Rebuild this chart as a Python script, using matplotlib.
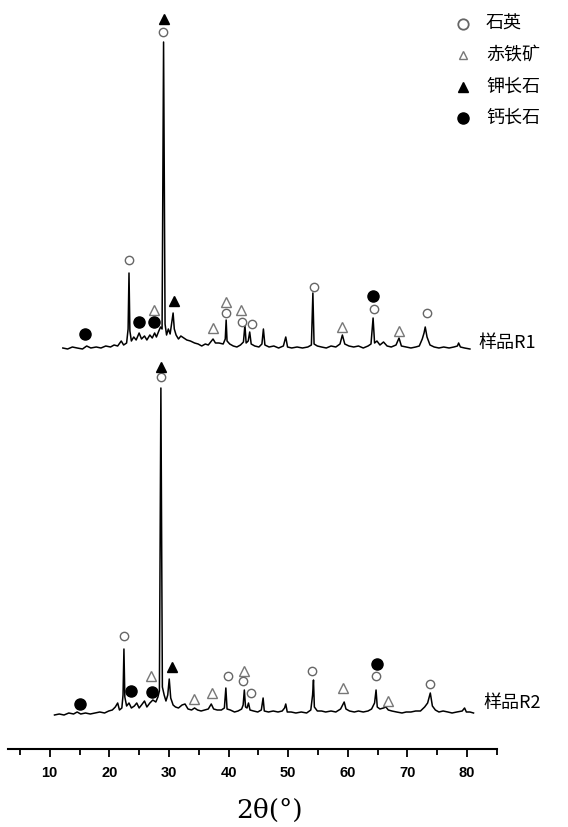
import numpy as np
import matplotlib
matplotlib.use("Agg")
import matplotlib.pyplot as plt

plt.rcParams['font.family'] = ['Noto Sans CJK SC', 'DejaVu Sans']

# XRD traces, 2theta vs intensity above own baseline
r1_x = [12.2, 13.0, 13.8, 14.6, 15.5, 16.2, 16.9, 17.8, 18.6, 19.4, 20.2, 20.8, 21.4, 22.0, 22.4,
        22.9, 23.15, 23.3, 23.45, 23.7, 24.1, 24.5, 25.0, 25.4, 25.9, 26.3, 26.8, 27.2, 27.6, 27.9,
        28.3, 28.6, 28.85, 29.1, 29.35, 29.6, 29.9, 30.2, 30.5, 30.7, 30.9, 31.2, 31.6, 32.0, 32.5,
        33.0, 33.6, 34.3, 34.9, 35.5, 36.1, 36.6, 37.0, 37.4, 37.8, 38.4, 39.1, 39.45, 39.6, 39.75,
        40.2, 40.8, 41.4, 42.0, 42.5, 42.75, 42.95, 43.3, 43.55, 43.8, 44.4, 45.1, 45.6, 45.85, 46.1,
        46.8, 47.6, 48.4, 49.2, 49.6, 49.9, 50.6, 51.5, 52.4, 53.3, 53.9, 54.15, 54.35, 54.9, 55.6,
        56.4, 57.2, 58.0, 58.7, 59.1, 59.5, 60.2, 61.0, 61.8, 62.6, 63.4, 63.9, 64.25, 64.5, 64.9,
        65.4, 66.0, 66.6, 67.3, 68.1, 68.6, 69.0, 69.8, 70.6, 71.4, 72.0, 72.5, 72.8, 73.0, 73.3,
        73.8, 74.5, 75.3, 76.1, 77.0, 77.8, 78.4, 78.6, 78.9, 79.6, 80.5]
r1_i = [1, 0, 2, 1, 0, 3, 1, 2, 1, 3, 2, 4, 3, 8, 4,
        6, 20, 76, 18, 8, 12, 9, 16, 10, 13, 9, 14, 11, 16, 12,
        18, 22, 20, 307, 25, 14, 20, 15, 28, 36, 20, 14, 10, 13, 11,
        9, 8, 6, 5, 3, 5, 4, 7, 10, 6, 6, 5, 10, 29, 8,
        5, 3, 2, 4, 7, 24, 6, 8, 17, 5, 3, 2, 5, 20, 4,
        2, 3, 1, 3, 12, 2, 1, 2, 1, 2, 4, 56, 5, 3, 2,
        1, 3, 2, 5, 14, 5, 3, 2, 3, 1, 3, 5, 31, 6, 8,
        4, 7, 3, 2, 4, 11, 3, 2, 1, 2, 3, 10, 16, 22, 12,
        4, 2, 1, 2, 1, 2, 3, 6, 2, 1, 0]

r2_x = [10.8, 11.6, 12.4, 13.2, 14.0, 14.6, 15.2, 16.0, 16.8, 17.6, 18.4, 19.2, 19.9, 20.5, 21.0,
        21.4, 21.7, 22.1, 22.3, 22.45, 22.6, 22.9, 23.3, 23.7, 24.2, 24.6, 25.0, 25.4, 25.9, 26.3,
        26.8, 27.3, 27.8, 28.15, 28.4, 28.65, 28.9, 29.2, 29.5, 29.8, 30.05, 30.3, 30.7, 31.1, 31.6,
        32.2, 32.7, 33.2, 33.8, 34.3, 34.8, 35.4, 36.0, 36.6, 37.1, 37.5, 38.1, 38.8, 39.3, 39.55,
        39.75, 40.3, 41.0, 41.6, 42.2, 42.45, 42.65, 42.85, 43.1, 43.35, 43.6, 44.2, 44.9, 45.5, 45.8,
        46.0, 46.7, 47.5, 48.3, 49.0, 49.4, 49.6, 49.85, 50.5, 51.3, 52.2, 53.1, 53.8, 54.1, 54.25,
        54.4, 54.9, 55.6, 56.3, 57.2, 58.0, 58.8, 59.4, 59.7, 60.3, 61.1, 61.8, 62.6, 63.4, 64.0,
        64.5, 64.75, 64.95, 65.4, 66.0, 66.4, 66.8, 67.4, 68.2, 69.1, 69.8, 70.6, 71.4, 72.2, 72.9,
        73.4, 73.85, 74.2, 74.7, 75.3, 76.0, 76.8, 77.5, 78.3, 79.2, 79.6, 79.9, 80.5, 81.1]
r2_i = [0, 1, 0, 2, 1, 3, 1, 2, 1, 2, 3, 2, 4, 5, 8,
        12, 5, 7, 20, 66, 18, 9, 12, 7, 9, 12, 7, 10, 14, 8,
        12, 15, 13, 18, 24, 327, 28, 20, 14, 20, 36, 17, 10, 8, 7,
        10, 11, 6, 5, 7, 5, 4, 5, 6, 11, 6, 5, 5, 7, 27,
        6, 5, 3, 4, 6, 10, 25, 8, 7, 12, 5, 4, 3, 5, 17,
        4, 3, 4, 3, 4, 7, 11, 3, 3, 2, 3, 2, 5, 20, 35,
        8, 4, 4, 3, 4, 3, 6, 13, 6, 4, 3, 4, 3, 4, 6,
        12, 25, 8, 6, 7, 8, 5, 4, 3, 2, 3, 3, 4, 4, 8,
        12, 22, 9, 5, 3, 4, 3, 2, 3, 4, 7, 3, 3, 2]

r1_offset = 400
r2_offset = 34

# phase markers (2theta, plot height)
quartz_x = [23.27, 28.98, 39.56, 42.25, 43.93, 54.35, 64.43, 73.33,
            22.43, 28.65, 39.90, 42.42, 43.76, 54.01, 64.76, 73.83]
quartz_y = [489, 717, 436, 427, 425, 462, 440, 436,
            113, 372, 73, 68, 56, 78, 73, 65]
hematite_x = [27.47, 37.38, 39.56, 42.08, 59.05, 68.63,
              26.97, 34.19, 37.21, 42.59, 59.22, 66.78]
hematite_y = [439, 421, 447, 439, 422, 418,
              73, 50, 56, 78, 61, 48]
kfeld_x = [29.15, 30.83, 28.65, 30.49]
kfeld_y = [730, 448, 382, 82]
cafeld_x = [15.88, 24.95, 27.47, 64.26, 15.04, 23.61, 27.13, 64.93]
cafeld_y = [415, 427, 427, 453, 45, 58, 57, 85]

legend_labels = ['石英', '赤铁矿', '钾长石', '钙长石']
sample_labels = ['样品R1', '样品R2']
xticks_major = [10, 20, 30, 40, 50, 60, 70, 80]

fig = plt.figure(figsize=(5.68, 8.27), dpi=100)
ax = fig.add_axes([8 / 568, 78 / 827, 489 / 568, 749 / 827])

ax.plot(r1_x, np.array(r1_i) + r1_offset, color='black', lw=1.1)
ax.plot(r2_x, np.array(r2_i) + r2_offset, color='black', lw=1.1)

circ = dict(marker='o', ls='none', ms=6, mfc='white', mec='#666666', mew=1.0)
tri_open = dict(marker='^', ls='none', ms=6.5, mfc='white', mec='#777777', mew=1.0)
tri_fill = dict(marker='^', ls='none', ms=7, mfc='black', mec='black')
dot = dict(marker='o', ls='none', ms=8, mfc='black', mec='black')

ax.plot(quartz_x, quartz_y, **circ)
ax.plot(hematite_x, hematite_y, **tri_open)
ax.plot(kfeld_x, kfeld_y, **tri_fill)
ax.plot(cafeld_x, cafeld_y, **dot)

ax.text(81.9, 406, sample_labels[0], fontsize=13, va='center', ha='left')
ax.text(82.7, 46, sample_labels[1], fontsize=13, va='center', ha='left')

# legend drawn by hand in figure pixels
leg_rows = [24, 55, 87, 118]
leg_styles = [dict(circ, ms=7.5, mew=1.3), dict(tri_open, ms=6), tri_fill, dot]
for style, lab, yy in zip(leg_styles, legend_labels, leg_rows):
    fig.add_artist(plt.Line2D([463 / 568], [1 - yy / 827], transform=fig.transFigure, **style))
    fig.text(486 / 568, 1 - yy / 827, lab, fontsize=13, va='center', ha='left')

ax.set_xlim(3.0, 85.04)
ax.set_ylim(0, 749)
for s in ['left', 'right', 'top']:
    ax.spines[s].set_visible(False)
ax.spines['bottom'].set_linewidth(1.5)
ax.set_yticks([])
ax.set_xticks(xticks_major)
ax.set_xticks([5, 15, 25, 35, 45, 55, 65, 75, 85], minor=True)
ax.tick_params(axis='x', which='major', direction='out', length=6, width=1.3, pad=6)
ax.tick_params(axis='x', which='minor', direction='out', length=4, width=1.3)
for lbl in ax.get_xticklabels():
    lbl.set_family('Liberation Sans')
    lbl.set_fontweight('bold')
    lbl.set_fontsize(10.5)

ax.set_xlabel('2θ(°)', fontsize=19, family='DejaVu Serif')
ax.xaxis.set_label_coords((270 - 8) / 489, -(810 - 749) / 749)
ax.xaxis.label.set_va('center')

fig.savefig('out.png', dpi=100)
